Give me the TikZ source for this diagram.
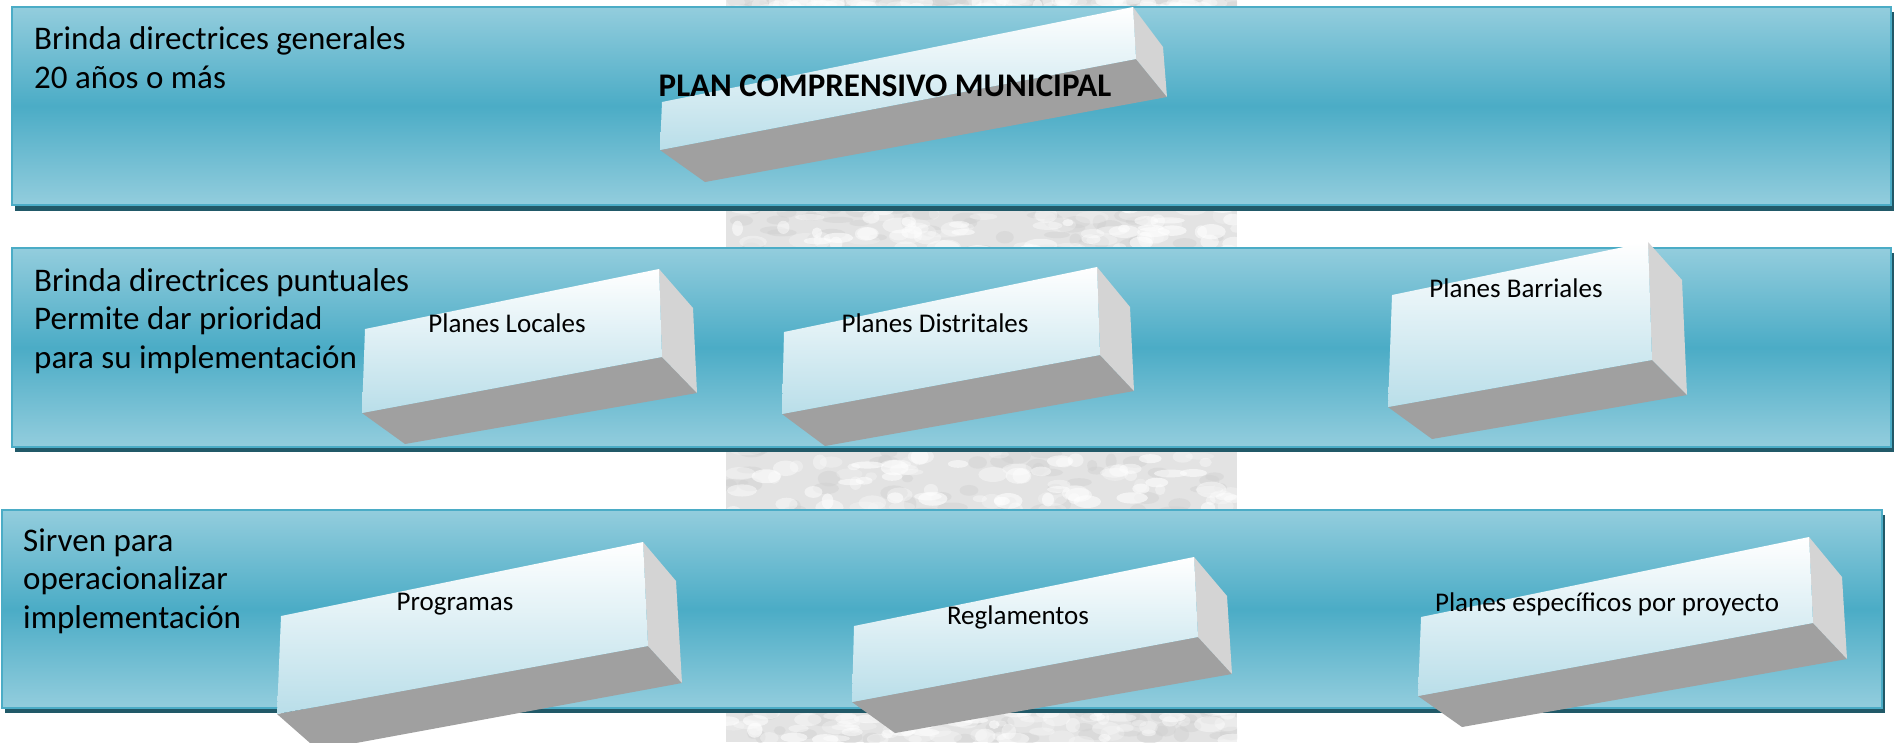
\documentclass[tikz,border=0pt]{standalone}
\usepackage{fontspec}
\setmainfont{Carlito}
\definecolor{bandlite}{HTML}{93CDDD}
\definecolor{banddark}{HTML}{4BACC6}
\definecolor{bandedge}{HTML}{4BACC6}
\definecolor{shadowc}{HTML}{215968}
\definecolor{frontbot}{HTML}{B9DEE9}
\definecolor{sidec}{HTML}{D4D4D4}
\definecolor{botc}{HTML}{A0A0A0}
\definecolor{texbase}{HTML}{E3E3E3}
\definecolor{texdark}{HTML}{D2D2D2}
\tikzset{
  band/.style={draw=bandedge, line width=2pt, top color=bandlite, bottom color=bandlite, middle color=banddark},
  bandshadow/.style={fill=shadowc},
  bandtext/.style={anchor=base west, align=left, inner sep=0pt, text=black, font=\fontsize{33}{38.5}\selectfont},
  boxlabel/.style={anchor=base, inner sep=0pt, text=black, font=\fontsize{27}{32}\selectfont},
  titlelabel/.style={anchor=base, inner sep=0pt, text=black, font=\fontsize{33}{40}\selectfont\bfseries},
  frontface/.style={top color=white, bottom color=frontbot},
  sideface/.style={fill=sidec},
  bottomface/.style={fill=botc}
}
% #1 front TL, #2 front TR, #3 front BR, #4 front BL, #5 outer top, #6 outer bottom, #7 bottom back-left
\newcommand{\cuboidbox}[7]{%
  \fill[bottomface] (#4) -- (#3) -- (#6) -- (#7) -- cycle;
  \fill[sideface] (#2) -- (#5) -- (#6) -- (#3) -- cycle;
  \shade[frontface] (#1) -- (#2) -- (#3) -- (#4) -- cycle;
}
\begin{document}
\begin{tikzpicture}[x=1pt,y=-1pt]
\useasboundingbox (0,0) rectangle (1897,742);
\fill[white] (0,0) rectangle (1897,742);
% textured stripe behind the bands
\begin{scope}
  \clip (726,0) rectangle (1237,742);
  \fill[texbase] (726,0) rectangle (1237,742);
  \pgfmathsetseed{42}
  \foreach \ya/\yb in {0/12, 203/252, 445/513, 706/742}{
    \foreach \k in {1,...,50}{
      \pgfmathsetmacro\xx{726+511*rnd}
      \pgfmathsetmacro\yy{\ya+(\yb-\ya)*rnd}
      \pgfmathsetmacro\rx{5+12*rnd}
      \pgfmathsetmacro\ry{3+5*rnd}
      \fill[texdark, opacity=0.5] (\xx,\yy) ellipse [x radius=\rx, y radius=\ry];
    }
    \foreach \k in {1,...,90}{
      \pgfmathsetmacro\xx{726+511*rnd}
      \pgfmathsetmacro\yy{\ya+(\yb-\ya)*rnd}
      \pgfmathsetmacro\rx{5+12*rnd}
      \pgfmathsetmacro\ry{3+5*rnd}
      \pgfmathsetmacro\op{0.2+0.4*rnd}
      \fill[white, opacity=\op] (\xx,\yy) ellipse [x radius=\rx, y radius=\ry];
    }
  }
\end{scope}
% bands
\fill[bandshadow] (15,12) rectangle (1894,211);
\path[band] (12,7) rectangle (1891,205);
\fill[bandshadow] (15,253) rectangle (1894,452);
\path[band] (12,248) rectangle (1891,447);
\fill[bandshadow] (5,515) rectangle (1885,713);
\path[band] (2,510) rectangle (1882,708);
% band texts (anchored at the baseline of their last line)
\node[bandtext] (g1) at (34,88) {Brinda directrices generales\\20 años o más};
\node[bandtext] (g2) at (34,368) {Brinda directrices puntuales\\Permite dar prioridad\\para su implementación};
\node[bandtext] (g3) at (23,628) {Sirven para\\operacionalizar\\implementación};
% boxes
\cuboidbox{662,102}{1133,7}{1136,59}{660,150}{1163,47}{1167,97}{705,182}
\cuboidbox{365,329}{659,269}{662,357}{362,413}{693,308}{697,393}{405,444}
\cuboidbox{784,332}{1097,267}{1100,355}{782,414}{1130,307}{1134,391}{825,446}
\cuboidbox{1392,295}{1648,242}{1652,360}{1388,407}{1682,280}{1687,395}{1432,439}
\cuboidbox{281,616}{643,542}{648,646}{277,714}{676,581}{682,683}{318,750}
\cuboidbox{854,626}{1194,557}{1198,637}{852,702}{1227,596}{1232,674}{895,733}
\cuboidbox{1421,617}{1809,537}{1813,623}{1418,696}{1842,577}{1847,659}{1462,727}
% box labels
\node[titlelabel] (pcm) at (885,96) {PLAN COMPRENSIVO MUNICIPAL};
\node[boxlabel] (pl) at (507,332) {Planes Locales};
\node[boxlabel] (pd) at (935,332) {Planes Distritales};
\node[boxlabel] (pb) at (1516,297) {Planes Barriales};
\node[boxlabel] (pr) at (455,610) {Programas};
\node[boxlabel] (rg) at (1018,624) {Reglamentos};
\node[boxlabel] (pe) at (1607,611) {Planes específicos por proyecto};
\end{tikzpicture}
\end{document}
